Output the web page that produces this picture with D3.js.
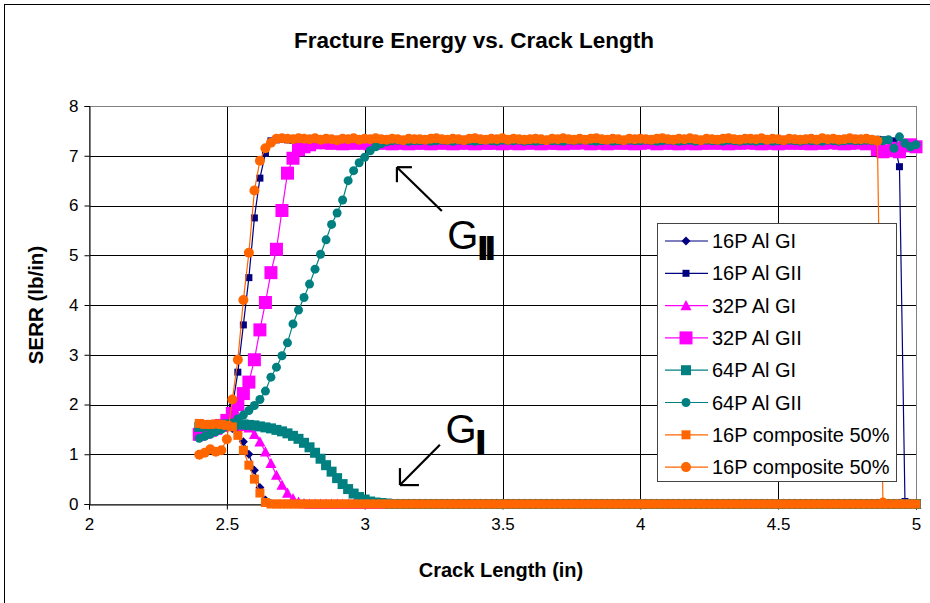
<!DOCTYPE html>
<html>
<head>
<meta charset="utf-8">
<script src="https://cdn.jsdelivr.net/npm/d3@7"></script>
<style>
body { margin: 0; background: #fff; }
text { font-family: "Liberation Sans", Arial, sans-serif; }
</style>
</head>
<body>
<svg id="chart" width="930" height="603"></svg>
<script>
// crack length grid (in), 2.40 .. 5.00 every 0.02
const crackLength = d3.range(131).map((i) => +(2.4 + i * 0.02).toFixed(2));

const al16GI = [
	1.50,1.52,1.54,1.55,1.56,1.56,1.52,1.42,1.25,1.00,
	0.68,0.33,0.08,0.01,0,0,0,0,0,0,
	0,0,0,0,0,0,0,0,0,0,
	0,0,0,0,0,0,0,0,0,0,
	0,0,0,0,0,0,0,0,0,0,
	0,0,0,0,0,0,0,0,0,0,
	0,0,0,0,0,0,0,0,0,0,
	0,0,0,0,0,0,0,0,0,0,
	0,0,0,0,0,0,0,0,0,0,
	0,0,0,0,0,0,0,0,0,0,
	0,0,0,0,0,0,0,0,0,0,
	0,0,0,0,0,0,0,0,0,0,
	0,0,0,0,0,0,0,0,0,0,
	0];

const al16GII = [
	1.35,1.40,1.45,1.50,1.55,1.62,1.95,2.65,3.60,4.55,
	5.75,6.55,7.05,7.30,7.32,7.33,7.32,7.31,7.32,7.33,
	7.32,7.31,7.33,7.32,7.32,7.31,7.32,7.33,7.32,7.31,
	7.32,7.32,7.31,7.33,7.32,7.32,7.31,7.32,7.33,7.32,
	7.31,7.32,7.32,7.33,7.31,7.32,7.32,7.31,7.33,7.32,
	7.32,7.33,7.32,7.31,7.32,7.32,7.33,7.32,7.31,7.32,
	7.33,7.32,7.31,7.32,7.32,7.33,7.32,7.32,7.31,7.32,
	7.32,7.31,7.32,7.33,7.32,7.32,7.31,7.32,7.32,7.33,
	7.32,7.32,7.33,7.31,7.32,7.32,7.33,7.32,7.31,7.32,
	7.31,7.32,7.32,7.33,7.32,7.31,7.32,7.32,7.33,7.32,
	7.32,7.33,7.31,7.32,7.32,7.33,7.32,7.31,7.32,7.32,
	7.33,7.32,7.32,7.31,7.32,7.33,7.32,7.32,7.31,7.32,
	7.32,7.31,7.32,7.33,7.32,7.31,7.30,6.78,0.05,0.02,
	0.02];

const al32GI = [
	1.58,1.58,1.58,1.58,1.58,1.58,1.58,1.57,1.56,1.53,
	1.40,1.25,1.05,0.82,0.58,0.38,0.22,0.11,0.04,0.01,
	0,0,0,0,0,0,0,0,0,0,
	0,0,0,0,0,0,0,0,0,0,
	0,0,0,0,0,0,0,0,0,0,
	0,0,0,0,0,0,0,0,0,0,
	0,0,0,0,0,0,0,0,0,0,
	0,0,0,0,0,0,0,0,0,0,
	0,0,0,0,0,0,0,0,0,0,
	0,0,0,0,0,0,0,0,0,0,
	0,0,0,0,0,0,0,0,0,0,
	0,0,0,0,0,0,0,0,0,0,
	0,0,0,0,0,0,0,0,0,0,
	0];

const al32GII = [
	1.40,1.44,1.48,1.52,1.58,1.68,1.82,2.00,2.22,2.45,
	2.90,3.50,4.05,4.65,5.12,5.90,6.65,6.95,7.12,7.18,
	7.22,7.26,7.28,7.26,7.25,7.27,7.24,7.26,7.25,7.27,
	7.25,7.24,7.26,7.25,7.27,7.24,7.25,7.26,7.24,7.25,
	7.26,7.25,7.24,7.27,7.25,7.26,7.24,7.25,7.26,7.25,
	7.24,7.26,7.25,7.25,7.27,7.24,7.26,7.25,7.24,7.26,
	7.25,7.27,7.24,7.26,7.25,7.25,7.24,7.27,7.25,7.26,
	7.26,7.24,7.25,7.26,7.24,7.27,7.25,7.26,7.25,7.24,
	7.25,7.26,7.27,7.24,7.25,7.26,7.25,7.24,7.26,7.25,
	7.24,7.25,7.26,7.25,7.27,7.25,7.24,7.26,7.25,7.26,
	7.26,7.25,7.24,7.26,7.25,7.24,7.27,7.25,7.26,7.25,
	7.25,7.24,7.26,7.25,7.26,7.27,7.25,7.24,7.25,7.26,
	7.26,7.24,7.25,7.12,7.08,7.10,7.15,7.08,7.20,7.22,
	7.18];

const al64GI = [
	1.55,1.56,1.57,1.58,1.59,1.60,1.60,1.60,1.60,1.59,
	1.58,1.56,1.54,1.52,1.49,1.46,1.42,1.37,1.31,1.23,
	1.14,1.03,0.91,0.78,0.65,0.52,0.40,0.30,0.21,0.14,
	0.09,0.05,0.03,0.02,0.01,0,0,0,0,0,
	0,0,0,0,0,0,0,0,0,0,
	0,0,0,0,0,0,0,0,0,0,
	0,0,0,0,0,0,0,0,0,0,
	0,0,0,0,0,0,0,0,0,0,
	0,0,0,0,0,0,0,0,0,0,
	0,0,0,0,0,0,0,0,0,0,
	0,0,0,0,0,0,0,0,0,0,
	0,0,0,0,0,0,0,0,0,0,
	0,0,0,0,0,0,0,0,0,0,
	0];

const al64GII = [
	1.32,1.36,1.40,1.45,1.50,1.56,1.63,1.71,1.79,1.88,
	1.98,2.10,2.27,2.55,2.75,2.98,3.24,3.62,3.90,4.15,
	4.42,4.72,5.02,5.31,5.62,5.85,6.11,6.50,6.70,6.86,
	6.97,7.10,7.18,7.24,7.28,7.30,7.31,7.30,7.29,7.30,
	7.30,7.31,7.29,7.30,7.31,7.30,7.29,7.31,7.30,7.30,
	7.29,7.30,7.31,7.30,7.29,7.31,7.30,7.30,7.31,7.29,
	7.30,7.29,7.30,7.31,7.30,7.30,7.29,7.31,7.30,7.31,
	7.31,7.30,7.29,7.30,7.31,7.29,7.30,7.30,7.31,7.30,
	7.30,7.31,7.30,7.29,7.30,7.31,7.30,7.29,7.30,7.31,
	7.29,7.30,7.31,7.30,7.30,7.29,7.31,7.30,7.29,7.30,
	7.30,7.29,7.30,7.31,7.29,7.30,7.30,7.31,7.30,7.29,
	7.31,7.30,7.30,7.29,7.31,7.30,7.29,7.30,7.31,7.30,
	7.30,7.31,7.30,7.31,7.30,7.32,7.15,7.38,7.25,7.18,
	7.22];

const comp16GI = [
	1.62,1.60,1.60,1.61,1.60,1.58,1.55,1.38,1.08,0.78,
	0.50,0.22,0.03,0,0,0,0,0,0,0,
	0,0,0,0,0,0,0,0,0,0,
	0,0,0,0,0,0,0,0,0,0,
	0,0,0,0,0,0,0,0,0,0,
	0,0,0,0,0,0,0,0,0,0,
	0,0,0,0,0,0,0,0,0,0,
	0,0,0,0,0,0,0,0,0,0,
	0,0,0,0,0,0,0,0,0,0,
	0,0,0,0,0,0,0,0,0,0,
	0,0,0,0,0,0,0,0,0,0,
	0,0,0,0,0,0,0,0,0,0,
	0,0,0,0,0,0,0,0,0,0,
	0];

const comp16GII = [
	0.99,1.03,1.10,1.05,1.08,1.30,2.10,2.90,4.10,5.05,
	6.30,6.90,7.15,7.26,7.34,7.35,7.34,7.33,7.35,7.34,
	7.33,7.35,7.32,7.34,7.33,7.31,7.34,7.33,7.35,7.32,
	7.34,7.33,7.35,7.33,7.32,7.34,7.33,7.31,7.34,7.33,
	7.33,7.32,7.34,7.35,7.33,7.32,7.34,7.33,7.31,7.34,
	7.35,7.33,7.32,7.34,7.33,7.35,7.32,7.34,7.33,7.32,
	7.33,7.34,7.33,7.31,7.34,7.33,7.35,7.33,7.32,7.34,
	7.32,7.34,7.35,7.33,7.32,7.34,7.33,7.31,7.34,7.33,
	7.34,7.33,7.32,7.34,7.35,7.33,7.32,7.34,7.33,7.35,
	7.33,7.31,7.34,7.33,7.32,7.34,7.35,7.33,7.32,7.34,
	7.34,7.33,7.35,7.32,7.34,7.33,7.31,7.34,7.33,7.32,
	7.33,7.34,7.32,7.35,7.33,7.34,7.32,7.33,7.35,7.33,
	7.33,7.34,7.32,7.30,0.03,null,null,null,null,null,
	null];

const seriesNames = ["16P Al GI", "16P Al GII", "32P Al GI", "32P Al GII",
	"64P Al GI", "64P Al GII", "16P composite 50%", "16P composite 50%"];
const seriesValues = [al16GI, al16GII, al32GI, al32GII, al64GI, al64GII, comp16GI, comp16GII];
const seriesColors = ["#000080", "#000080", "#ff00ff", "#ff00ff", "#008080", "#008080", "#ff6600", "#ff6600"];
const seriesMarkers = [["diamond", 9], ["square", 7], ["triangle", 11], ["square", 13],
	["square", 10], ["circle", 9], ["square", 9], ["circle", 10]];

const xTicks = [2, 2.5, 3, 3.5, 4, 4.5, 5];
const yTicks = [0, 1, 2, 3, 4, 5, 6, 7, 8];

const svg = d3.select("#chart");

// chart frame
svg.append("rect")
	.attr("x", 4.5).attr("y", 4.5)
	.attr("width", 940).attr("height", 620)
	.attr("fill", "#fff").attr("stroke", "#000");

const x = d3.scaleLinear().domain([2, 5]).range([89, 916]);
const y = d3.scaleLinear().domain([0, 8]).range([504, 106]);

// grid lines
svg.append("g")
	.selectAll("line")
	.data(yTicks.filter((t) => t > 0 && t < 8))
	.join("line")
	.attr("x1", x(2)).attr("x2", x(5))
	.attr("y1", (d) => Math.round(y(d)) + 0.5).attr("y2", (d) => Math.round(y(d)) + 0.5)
	.attr("stroke", "#000");

svg.append("g")
	.selectAll("line")
	.data(xTicks.filter((t) => t > 2 && t < 5))
	.join("line")
	.attr("x1", (d) => Math.round(x(d)) + 0.5).attr("x2", (d) => Math.round(x(d)) + 0.5)
	.attr("y1", y(8)).attr("y2", y(0))
	.attr("stroke", "#000");

// plot area border (grey)
svg.append("rect")
	.attr("x", x(2) + 0.5).attr("y", y(8) + 0.5)
	.attr("width", x(5) - x(2)).attr("height", y(0) - y(8))
	.attr("fill", "none").attr("stroke", "#808080");

// axes
const yAxis = svg.append("g")
	.attr("transform", `translate(${x(2) + 0.5},0)`)
	.call(d3.axisLeft(y).tickValues(yTicks).tickSize(5).tickPadding(6).tickFormat(d3.format("d")));
const xAxis = svg.append("g")
	.attr("transform", `translate(0,${y(0) + 0.5})`)
	.call(d3.axisBottom(x).tickValues(xTicks).tickSize(5).tickPadding(8).tickFormat(d3.format("")));

[xAxis, yAxis].forEach((a) => {
	a.select(".domain").attr("stroke", "#000");
	a.selectAll(".tick line").attr("stroke", "#000");
	a.selectAll(".tick text")
		.attr("fill", "#000")
		.style("font-family", "'Liberation Sans', Arial, sans-serif")
		.style("font-size", "17px");
});

// markers
function markerPath(shape, s) {
	const h = s / 2;
	if (shape === "square") return `M${-h},${-h}h${s}v${s}h${-s}Z`;
	if (shape === "diamond") return `M0,${-h}L${h},0L0,${h}L${-h},0Z`;
	if (shape === "triangle") return `M0,${-h}L${h},${h * 0.85}L${-h},${h * 0.85}Z`;
	return `M${h},0A${h},${h} 0 1,1 ${-h},0A${h},${h} 0 1,1 ${h},0Z`;
}

const line = d3.line()
	.defined((d) => d.v != null)
	.x((d) => x(d.c))
	.y((d) => y(d.v));

seriesValues.forEach((vals, k) => {
	const pts = vals.map((v, i) => ({ c: crackLength[i], v: v }));
	const g = svg.append("g").attr("class", "series");
	g.append("path")
		.datum(pts)
		.attr("d", line)
		.attr("fill", "none")
		.attr("stroke", seriesColors[k])
		.attr("stroke-width", 1.2);
	g.selectAll("path.mk")
		.data(pts.filter((d) => d.v != null))
		.join("path")
		.attr("class", "mk")
		.attr("transform", (d) => `translate(${x(d.c)},${y(d.v)})`)
		.attr("d", markerPath(seriesMarkers[k][0], seriesMarkers[k][1]))
		.attr("fill", seriesColors[k]);
});

// annotations
function arrow(x0, y0, x1, y1, hx, hy) {
	const a = svg.append("g").attr("stroke", "#000").attr("stroke-width", 2.2).attr("fill", "none");
	a.append("line").attr("x1", x(x0)).attr("y1", y(y0)).attr("x2", x(x1)).attr("y2", y(y1));
	a.append("line").attr("x1", x(x1)).attr("y1", y(y1)).attr("x2", x(x1) + hx).attr("y2", y(y1));
	a.append("line").attr("x1", x(x1)).attr("y1", y(y1)).attr("x2", x(x1)).attr("y2", y(y1) + hy);
}
arrow(3.28, 5.89, 3.117, 6.77, 15, 15);
arrow(3.273, 1.19, 3.128, 0.38, 19, -17);

// G label with a heavy subscript, one text element
function gLabel(cx, cy, sub) {
	const t = svg.append("text")
		.attr("x", x(cx)).attr("y", y(cy))
		.attr("font-size", 40).attr("fill", "#000");
	t.append("tspan").text("G");
	t.append("tspan").text(sub)
		.attr("dy", 10)
		.attr("font-size", 31).attr("font-weight", "bold")
		.attr("letter-spacing", -1)
		.attr("stroke", "#000").attr("stroke-width", 2);
}
gLabel(3.30, 5.13, "II");
gLabel(3.293, 1.23, "I");

// legend
const legend = svg.append("g");
legend.append("rect")
	.attr("x", 657.5).attr("y", 223.5)
	.attr("width", 239).attr("height", 258)
	.attr("fill", "#fff").attr("stroke", "#444");

seriesNames.forEach((name, k) => {
	const ly = 241 + k * 32.3;
	const row = legend.append("g");
	row.append("line")
		.attr("x1", 665).attr("x2", 708)
		.attr("y1", ly).attr("y2", ly)
		.attr("stroke", seriesColors[k]).attr("stroke-width", 1.2);
	row.append("path")
		.attr("transform", `translate(686,${ly})`)
		.attr("d", markerPath(seriesMarkers[k][0], seriesMarkers[k][1]))
		.attr("fill", seriesColors[k]);
	row.append("text")
		.attr("x", 712).attr("y", ly + 7)
		.attr("font-size", 20)
		.attr("fill", "#000")
		.text(name);
});

// titles
svg.append("text")
	.attr("x", 474).attr("y", 48)
	.attr("text-anchor", "middle")
	.attr("font-size", 22.5).attr("font-weight", "bold")
	.text("Fracture Energy vs. Crack Length");

svg.append("text")
	.attr("x", 501).attr("y", 577)
	.attr("text-anchor", "middle")
	.attr("font-size", 20).attr("font-weight", "bold")
	.text("Crack Length (in)");

svg.append("text")
	.attr("transform", "translate(43,305) rotate(-90)")
	.attr("text-anchor", "middle")
	.attr("font-size", 20.5).attr("font-weight", "bold")
	.text("SERR (lb/in)");
</script>
</body>
</html>
